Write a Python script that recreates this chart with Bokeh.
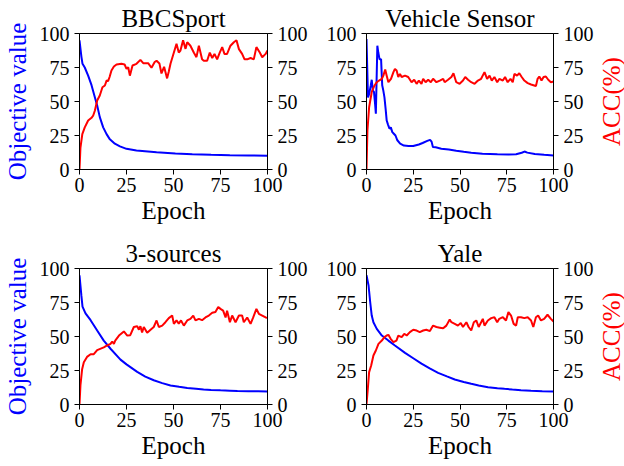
from bokeh.plotting import figure
from bokeh.models import Range1d, LinearAxis, FixedTicker
from bokeh.core.properties import value
from bokeh.layouts import column, row
from bokeh.embed import file_html
from bokeh.resources import INLINE

FONT = "Liberation Serif"
BLUE = "#0000ff"
RED = "#ff0000"

titles = ["BBCSport", "Vehicle Sensor", "3-sources", "Yale"]
left_label = "Objective value"
right_label = "ACC(%)"
x_label = "Epoch"
epoch_ticks = [0, 25, 50, 75, 100]
value_ticks = [0, 25, 50, 75, 100]

# ---- BBCSport ----
bbc_obj_x = [0, 1, 1.6, 2.8, 4.6, 6.4, 8.2, 9.4, 10.8, 12.6, 14.4, 16, 18.8, 21.5, 25, 30.3, 41, 51, 60, 70, 80, 90, 100]
bbc_obj_y = [95, 83, 77.7, 75, 69, 62, 53, 47, 38.5, 31, 26, 22.5, 19, 17, 15.2, 14, 12.7, 11.8, 11.2, 10.8, 10.5, 10.3, 10.1]
bbc_acc_x = [0, 0.5, 1.5, 2.8, 4.6, 6.4, 7.3, 8.2, 9.4, 10.8, 12.2, 13.5, 14.4, 15.2, 16, 17, 18.3, 19.7, 22.3, 24, 25,
             25.9, 26.8, 28.2, 30.3, 32.4, 33.9, 36.5, 38.3, 40, 41, 42.5, 43.6, 45, 46.6, 47.5, 48.4, 50.2, 51.6, 52.8,
             53.7, 55.1, 56.4, 57.3, 59, 60.8, 62.2, 63.5, 65.2, 66.1, 67.9, 69.3, 70.6, 71.8, 73.2, 74.6, 75.9, 77.1,
             78.5, 80.3, 82.1, 83.5, 84.8, 86.5, 87.8, 89.2, 91, 92.7, 94.1, 95.9, 97.2, 99, 100]
bbc_acc_y = [0, 16, 26, 31, 36, 38, 39.7, 43.4, 50.7, 54.4, 60.5, 61.8, 65.4, 65, 68, 72.8, 75.7, 77.2, 77.7, 77.2, 74,
             75.2, 69, 76.5, 77.7, 80.6, 78.2, 78.2, 74.8, 79, 80, 78, 70.6, 75.5, 67, 72, 77.7, 86, 92.4, 86,
             87.5, 95, 88.7, 93.6, 91, 86, 82.6, 91, 81, 80, 80, 86, 82, 85, 81, 86, 90, 85,
             85, 91, 93.6, 95, 88.5, 85, 81, 81, 82, 81, 90, 86, 82.6, 85, 87.5]

# ---- Vehicle Sensor ----
veh_obj_x = [0, 0.8, 1.5, 2.3, 2.8, 3.4, 4.0, 4.6, 5.0, 5.8, 6.3, 7.0, 7.8, 8.4, 9.0, 9.6, 10.2, 10.8, 11.5, 12.3, 13.0,
             13.8, 14.5, 15.5, 16.5, 18, 20, 22.5, 25, 28, 30, 32.5, 34, 34.8, 35.5, 37, 40, 44, 48, 52, 56, 62, 70,
             76, 80, 83, 84.5, 86, 90, 95, 100]
veh_obj_y = [96, 53, 56, 62, 66, 58, 57, 48, 41, 91, 86, 81, 81, 62, 58, 53, 45, 36, 33, 30, 31,
             27.5, 26.5, 25, 21.5, 19, 17.6, 17.3, 17.3, 18.4, 19.5, 21, 21.8, 20.5, 16.6, 16.4, 15.3, 14.7, 13.8, 13.0, 12.3, 11.6, 11.2,
             11.0, 11.2, 12.3, 13.2, 12.4, 11.4, 10.8, 10.3]
veh_acc_x = [0, 0.5, 1.4, 2.8, 4.3, 5.5, 6.7, 8.2, 9, 10, 10.8, 11.7, 13.1, 14.4, 15.2, 16.1, 17, 17.9, 18.8, 20.6, 22.3,
             24.1, 25.5, 26.8, 28, 29.4, 30.3, 31.6, 33, 34.4, 35.6, 37.4, 39.2, 41, 41.8, 43.6, 45.4, 46.5, 48, 49.8,
             51.6, 52.8, 54.3, 56, 57.8, 59.6, 61.3, 63.1, 64.5, 65.8, 67, 68.4, 69.9, 71.1, 72.9, 74.1, 75.5, 77,
             78.2, 79.1, 80.5, 81.7, 83, 84.4, 86.2, 88, 89.7, 90.6, 91.5, 92.4, 93.6, 94.7, 95.9, 97.2, 98.6, 100]
veh_acc_y = [0, 28.7, 45.8, 57, 61.8, 64.2, 65.4, 66.7, 69, 73.5, 69, 64.2, 66.7, 71.6, 74, 72.8, 68, 70.3, 68, 69, 68,
             64.2, 66, 63, 65.4, 63, 66.7, 64.2, 66, 64.2, 66.7, 64.2, 65.4, 66.7, 64.2, 66, 68, 70.8, 64.2, 63,
             65.4, 68, 66, 64.2, 63, 65.4, 66.7, 71.6, 66.7, 69, 65.4, 68, 64.2, 66.7, 65.4, 68, 64.2, 66.7,
             64.2, 70.3, 69, 70.8, 68, 65.4, 63.5, 62.5, 61.8, 61.3, 66.7, 68.4, 65.4, 68, 68.4, 66, 64.2, 64.7]

# ---- 3-sources ----
src_obj_x = [0, 1, 1.6, 3.2, 5.9, 9.4, 12.9, 16.5, 21.8, 25, 30.7, 35, 39.5, 44, 48.4, 53, 57.3, 62, 66, 70, 75, 80, 84, 90, 95, 100]
src_obj_y = [95, 80, 72, 67, 62, 54.4, 47, 41, 33, 29.5, 24, 20.5, 17.8, 15.7, 14, 13, 12.1, 11.5, 11, 10.7, 10.4, 10.2, 10, 9.8, 9.7, 9.6]
src_acc_x = [0, 0.5, 1.4, 2.3, 4, 5.9, 7.6, 9.4, 12.9, 14.7, 16.5, 17.4, 18.3, 19, 21, 23.6, 25.4, 27, 28.9, 30.7, 31.6,
             32.4, 33.3, 34.2, 36, 37.8, 39.5, 41, 42.2, 44, 45.7, 47.5, 49.3, 50.2, 51.6, 52.8, 54, 55.5, 57.3, 59,
             60.5, 61.7, 63.5, 65.2, 67, 68.8, 70.6, 72.3, 73.8, 75, 76.4, 77.7, 78.5, 80, 81.2, 83, 84.8, 86.5, 87.4,
             89.2, 91, 92.4, 94.1, 95.4, 97.2, 99, 100]
src_acc_y = [0, 14, 26, 31, 35, 37, 37, 40, 42, 43.4, 44.6, 46.3, 44.6, 47, 50.7, 53.7, 50.7, 51, 57, 57.6, 55,
             57.6, 53, 57, 52.7, 55, 57, 61.8, 57, 58, 60.5, 63.5, 65.4, 59.3, 61.8, 59.5, 61.8, 58, 61.8, 63,
             65.4, 61.8, 63, 62, 64, 65.4, 67.4, 68, 71.6, 70.3, 69, 64, 69, 60.5, 65.4, 60.5, 65.4, 65.4, 60.5,
             64, 59.3, 64, 70.3, 66.7, 65.4, 64, 63.7]

# ---- Yale ----
yale_obj_x = [0, 1.1, 2, 2.8, 3.7, 5.5, 8.2, 11.7, 15.2, 20.6, 25, 29.4, 33.8, 38.3, 43, 47.2, 52, 56, 60, 65, 70, 73.8, 78, 82.6, 88, 94, 100]
yale_obj_y = [95, 87.5, 75, 65.4, 60.5, 55.6, 50.7, 47, 43.4, 38, 34, 30, 26.5, 23.3, 20.7, 18.4, 16.6, 15.2, 14, 12.7, 12, 11.5, 11, 10.5, 10.1, 9.8, 9.6]
yale_acc_x = [0, 0.7, 1.4, 2.5, 3.7, 5, 6.4, 8.2, 9.6, 10.8, 11.7, 12.9, 14.4, 16, 17, 18.8, 20.2, 21.5, 23.2, 25, 26.8,
              28.5, 30.3, 32, 33.9, 35.6, 37.4, 39.2, 41, 42.7, 44.5, 45.4, 47.2, 48.9, 50.4, 51.6, 53.4, 54.6, 56,
              57.4, 58.7, 60, 61.3, 62.2, 63.1, 64.9, 66.7, 68.4, 69.9, 71, 72.9, 74.6, 75.9, 77.3, 78.7, 80, 80.9,
              82.6, 84.4, 86.2, 88, 89.2, 90.6, 91.8, 93.3, 95, 96.8, 98.6, 100]
yale_acc_y = [0, 11.5, 23.8, 28.7, 36, 39.7, 44.6, 47, 49.5, 50.7, 51.2, 48.3, 45.8, 47, 50.7, 49.5, 52, 50.7, 53.2, 55, 54.4,
              53.2, 54.4, 55, 54, 58, 57, 56.5, 56, 58, 62.5, 60.5, 59.3, 58, 60, 57, 60.5, 57, 54.4,
              60.5, 61.8, 57, 60.5, 63, 58, 61.8, 63.5, 64.2, 60.5, 63, 64.2, 61.8, 67.9, 65.4, 59.3, 58, 64.2,
              64.2, 63.5, 64.2, 61.8, 57, 64.2, 65.4, 61.8, 63, 66, 63, 61]

series = [
    (bbc_obj_x, bbc_obj_y, bbc_acc_x, bbc_acc_y),
    (veh_obj_x, veh_obj_y, veh_acc_x, veh_acc_y),
    (src_obj_x, src_obj_y, src_acc_x, src_acc_y),
    (yale_obj_x, yale_obj_y, yale_acc_x, yale_acc_y),
]


def style_axis(ax, label_standoff, tick_standoff):
    ax.ticker = FixedTicker(ticks=value_ticks)
    ax.major_tick_out = 5
    ax.major_tick_in = 0
    ax.minor_tick_line_color = None
    ax.axis_line_color = "black"
    ax.major_tick_line_color = "black"
    ax.major_label_text_font = FONT
    ax.major_label_text_font_size = "20px"
    ax.major_label_text_color = "black"
    ax.major_label_standoff = tick_standoff
    ax.axis_label_text_font = FONT
    ax.axis_label_text_font_size = "25px"
    ax.axis_label_text_font_style = "normal"
    ax.axis_label_text_color = "black"
    ax.axis_label_standoff = label_standoff


def make(i, with_left_label, w, h, bl, br, bt, bb):
    ox, oy, ax_, ay = series[i]
    p = figure(width=w, height=h, x_range=Range1d(0, 100), y_range=Range1d(0, 100),
               output_backend="svg", toolbar_location=None,
               min_border_left=bl, min_border_right=br, min_border_top=bt, min_border_bottom=bb)
    p.extra_y_ranges = {"acc": Range1d(0, 100)}
    p.title.text = titles[i]
    p.title.text_font = FONT
    p.title.text_font_size = "25px"
    p.title.text_font_style = "normal"
    p.title.text_color = "black"
    p.title.align = "center"
    p.title.standoff = 3
    p.xgrid.visible = False
    p.ygrid.visible = False
    p.outline_line_color = "black"
    p.outline_line_alpha = 1
    p.background_fill_color = "white"
    p.border_fill_color = "white"

    xa = p.xaxis[0]
    style_axis(xa, 2, 3)
    xa.ticker = FixedTicker(ticks=epoch_ticks)
    xa.axis_label = x_label

    ya = p.yaxis[0]
    style_axis(ya, 6, 5)
    if with_left_label:
        ya.axis_label = left_label
        ya.axis_label_text_color = BLUE

    ra = LinearAxis(y_range_name="acc")
    style_axis(ra, 0, 5)
    p.add_layout(ra, "right")

    p.line(ox, oy, line_color=BLUE, line_width=2)
    p.line(ax_, ay, line_color=RED, line_width=2, y_range_name="acc")
    return p


def acc_title(h, bt, bb):
    # narrow strip holding the right-hand y-axis title, read bottom-to-top
    f = figure(width=28, height=h, x_range=Range1d(0, 1), y_range=Range1d(0, 100),
               x_axis_type=None, y_axis_type=None,
               output_backend="svg", toolbar_location=None,
               min_border_left=0, min_border_right=0, min_border_top=bt, min_border_bottom=bb)
    f.outline_line_color = None
    f.background_fill_color = "white"
    f.border_fill_color = "white"
    f.grid.visible = False
    f.text(x=[0.54], y=[50], text=[right_label], angle=90, angle_units="deg",
           text_align="center", text_baseline="middle",
           text_font=value(FONT), text_font_size=value("25px"), text_color=RED)
    return f


H1, T1, B1 = 231, 33, 62
H2, T2, B2 = 234, 37, 61

p1 = make(0, True, 317, H1, 79, 50, T1, B1)
p2 = make(1, False, 279, H1, 49, 42, T1, B1)
a1 = acc_title(H1, T1, B1)
p3 = make(2, True, 317, H2, 79, 50, T2, B2)
p4 = make(3, False, 279, H2, 49, 42, T2, B2)
a2 = acc_title(H2, T2, B2)

layout = column(row(p1, p2, a1), row(p3, p4, a2))

open("out.html", "w").write(file_html(layout, INLINE))
